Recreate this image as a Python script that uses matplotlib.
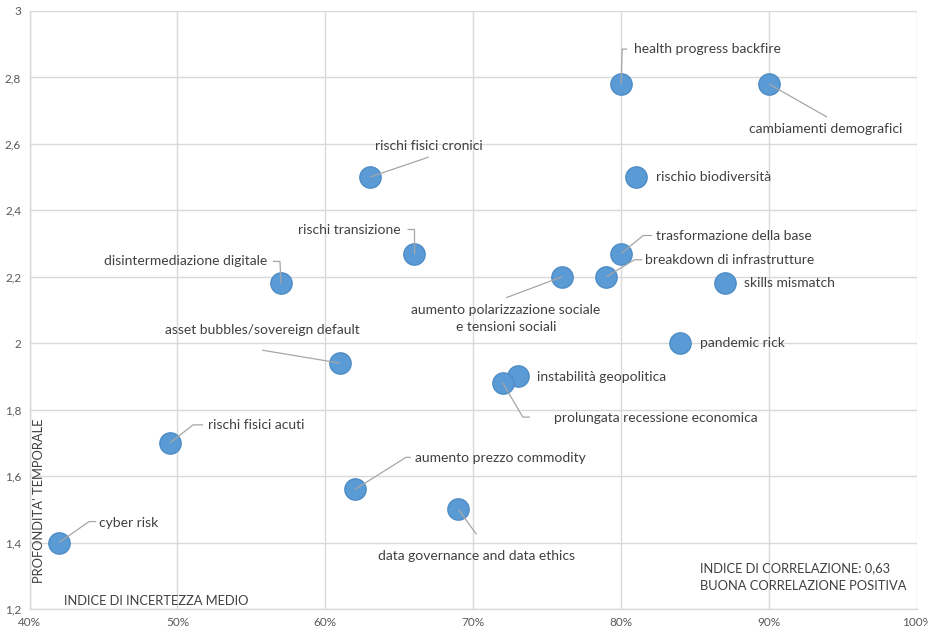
import matplotlib
matplotlib.use("Agg")
import matplotlib.pyplot as plt
import numpy as np
from matplotlib.ticker import FixedLocator, FuncFormatter

# Risk factors: average uncertainty index (%) vs. time depth
risks = [
    "cyber risk", "rischi fisici acuti", "disintermediazione digitale",
    "asset bubbles/sovereign default", "rischi fisici cronici", "rischi transizione",
    "aumento prezzo commodity", "data governance and data ethics",
    "aumento polarizzazione sociale\ne tensioni sociali", "breakdown di infrastrutture",
    "trasformazione della base", "health progress backfire", "cambiamenti demografici",
    "rischio biodiversità", "skills mismatch", "pandemic rick",
    "instabilità geopolitica", "prolungata recessione economica",
]
uncertainty = [42, 49.5, 57, 61, 63, 66, 62, 69, 76, 79, 80, 80, 90, 81, 87, 84, 73, 72]
time_depth = [1.40, 1.70, 2.18, 1.94, 2.50, 2.27, 1.56, 1.50, 2.20, 2.20, 2.27, 2.78, 2.78,
              2.50, 2.18, 2.00, 1.90, 1.88]

x_ticks = [40, 50, 60, 70, 80, 90, 100]
y_ticks = [1.2, 1.4, 1.6, 1.8, 2.0, 2.2, 2.4, 2.6, 2.8, 3.0]

# Label placement in screen pixels relative to each marker (x right, y down):
# (text offset, horizontal alignment, leader polyline)
placement = {
    "cyber risk": ((40, -20), "left", [(0, 0), (30, -21), (37, -21)]),
    "rischi fisici acuti": ((38, -18), "left", [(0, 0), (23, -18), (33, -18)]),
    "disintermediazione digitale": ((-14, -22), "right", [(0, 0), (-1, -22), (-8, -22)]),
    "asset bubbles/sovereign default": ((-78, -33), "center", [(0, 0), (-78, -13)]),
    "rischi fisici cronici": ((59, -31), "center", [(0, 0), (59, -20)]),
    "rischi transizione": ((-13, -24), "right", [(0, 0), (0, -25), (-7, -25)]),
    "aumento prezzo commodity": ((60, -31), "left", [(0, 0), (51, -32), (56, -32)]),
    "data governance and data ethics": ((18, 47), "center", [(0, 0), (18, 25)]),
    "aumento polarizzazione sociale\ne tensioni sociali": ((-56, 42), "center", [(0, 0), (-56, 21)]),
    "breakdown di infrastrutture": ((39, -17), "left", [(0, 0), (28, -17), (36, -17)]),
    "trasformazione della base": ((35, -18), "left", [(0, 0), (22, -18), (31, -18)]),
    "health progress backfire": ((13, -35), "left", [(0, 0), (1, -35), (6, -35)]),
    "cambiamenti demografici": ((57, 45), "center", [(0, 0), (58, 33)]),
    "rischio biodiversità": ((20, 0), "left", None),
    "skills mismatch": ((19, 0), "left", None),
    "pandemic rick": ((20, 0), "left", None),
    "instabilità geopolitica": ((19, 1), "left", None),
    "prolungata recessione economica": ((51, 35), "left", [(0, 0), (20, 34), (27, 34)]),
}

FONT = ["Lato", "DejaVu Sans"]
TEXT_COLOR = "#404040"
GRID_COLOR = "#d9d9d9"
LEADER_COLOR = "#a6a6a6"

plt.rcParams["font.family"] = FONT

fig = plt.figure(figsize=(9.29, 6.32), dpi=100)
ax = fig.add_axes([29.5 / 929, 23 / 632, (917 - 29.5) / 929, (609 - 11) / 632])
ax.set_xlim(40, 100)
ax.set_ylim(1.2, 3.0)

ax.xaxis.set_major_locator(FixedLocator(x_ticks))
ax.yaxis.set_major_locator(FixedLocator(y_ticks))
ax.xaxis.set_major_formatter(FuncFormatter(lambda v, p: f"{v:.0f}%"))
ax.yaxis.set_major_formatter(
    FuncFormatter(lambda v, p: ("%g" % round(v, 1)).replace(".", ","))
)
ax.tick_params(length=0, labelsize=8.5, colors="#595959", pad=6)
ax.grid(True, color=GRID_COLOR, linewidth=1)
ax.set_axisbelow(True)
for side in ["top", "right"]:
    ax.spines[side].set_visible(False)
for side in ["left", "bottom"]:
    ax.spines[side].set_color(GRID_COLOR)
    ax.spines[side].set_linewidth(1)

ax.scatter(uncertainty, time_depth, s=235, color="#5B9BD5", edgecolors="#4E8CC6",
           linewidths=1.0, zorder=3)

fig.canvas.draw()
to_data = ax.transData.inverted()

for name, xv, yv in zip(risks, uncertainty, time_depth):
    (tdx, tdy), ha, leader = placement[name]
    px, py = ax.transData.transform((xv, yv))
    if leader is not None:
        pts = np.array([(px + dx, py - dy) for dx, dy in leader])
        dpts = to_data.transform(pts)
        ax.plot(dpts[:, 0], dpts[:, 1], color=LEADER_COLOR, linewidth=0.9, zorder=4,
                solid_capstyle="butt")
    ax.annotate(name, (xv, yv), xytext=(tdx, -tdy), textcoords="offset pixels",
                ha=ha, va="center", fontsize=10, color=TEXT_COLOR, zorder=5,
                linespacing=1.5, multialignment="center")

ax.text(64 / 929, 31 / 632, "INDICE DI INCERTEZZA MEDIO", transform=fig.transFigure,
        ha="left", va="center", fontsize=9.3, color=TEXT_COLOR)
ax.text(39 / 929, (632 - 501) / 632, "PROFONDITA' TEMPORALE", transform=fig.transFigure,
        ha="center", va="center", rotation=90, fontsize=9.3, color=TEXT_COLOR)
ax.text(700 / 929, (632 - 577) / 632,
        "INDICE DI CORRELAZIONE: 0,63\nBUONA CORRELAZIONE POSITIVA",
        transform=fig.transFigure, ha="left", va="center", fontsize=9.3,
        color=TEXT_COLOR, linespacing=1.6)

fig.savefig("out.png", dpi=100)
